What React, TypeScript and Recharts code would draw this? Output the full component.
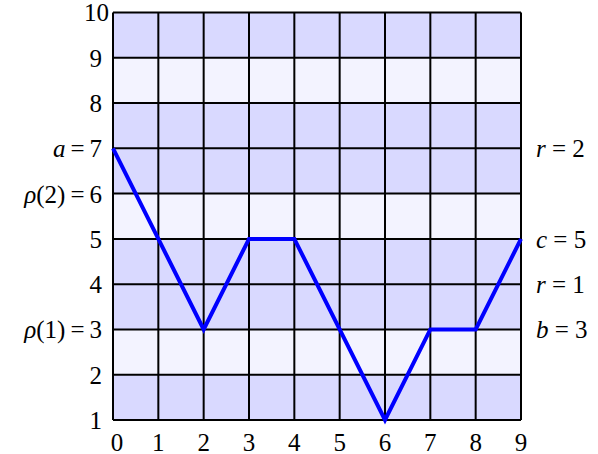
import React from 'react';
import { LineChart, Line, XAxis, YAxis, ReferenceArea, ReferenceLine } from 'recharts';

const xValues = [0, 1, 2, 3, 4, 5, 6, 7, 8, 9];
const yValues = [7, 5, 3, 5, 5, 3, 1, 3, 3, 5];
const xTicks = [0, 1, 2, 3, 4, 5, 6, 7, 8, 9];
const yTicks = [1, 2, 3, 4, 5, 6, 7, 8, 9, 10];
// lower edge of each row band and which ones are light
const bandRows = [1, 2, 3, 4, 5, 6, 7, 8, 9];
const lightRows = [2, 5, 8];
const leftPrefix: Record<number, [string, string]> = {
  7: ['a', ''],
  6: ['ρ', '(2)'],
  3: ['ρ', '(1)'],
};
const rightTicks = [3, 4, 5, 7];
const rightLabels: Record<number, [string, string]> = {
  7: ['r', ' = 2'],
  5: ['c', ' = 5'],
  4: ['r', ' = 1'],
  3: ['b', ' = 3'],
};

const data = xValues.map((x, i) => ({ x, y: yValues[i] }));

const FONT = 'Liberation Serif, Tinos, Times New Roman, DejaVu Serif, Noto Serif, serif';
const DARK = '#d9d9ff';
const LIGHT = '#f3f3ff';

const XTick = (props: any) => {
  const { x, y, payload } = props;
  const dx = payload.value === 0 ? 4 : 0;
  return (
    <text x={x + dx} y={y + 23} textAnchor="middle" fontFamily={FONT} fontSize={25} fill="#000">
      {payload.value}
    </text>
  );
};

const YTickLeft = (props: any) => {
  const { x, y, payload } = props;
  const v = payload.value;
  const pre = leftPrefix[v];
  let dx = -5;
  let dy = 9;
  if (v === 10) { dx = 2; dy = 8; }
  return (
    <text x={x + dx} y={y + dy} textAnchor="end" fontFamily={FONT} fontSize={25} fill="#000">
      {pre ? <tspan fontStyle="italic">{pre[0]}</tspan> : null}
      {pre ? <tspan>{pre[1] + '\u2009=\u2009'}</tspan> : null}
      <tspan>{v}</tspan>
    </text>
  );
};

const YTickRight = (props: any) => {
  const { x, y, payload } = props;
  const lab = rightLabels[payload.value];
  if (!lab) return null;
  return (
    <text x={x + 9} y={y + 9} textAnchor="start" fontFamily={FONT} fontSize={25} fill="#000" style={{ whiteSpace: 'pre' }}>
      <tspan fontStyle="italic">{lab[0]}</tspan>
      <tspan>{lab[1]}</tspan>
    </text>
  );
};

export default function App() {
  return (
    <div style={{ position: 'absolute', left: 0, top: 0, background: '#fff' }}>
      <LineChart
        width={598}
        height={454}
        data={data}
        margin={{ top: 12.5, right: 0, bottom: 0, left: 0 }}
      >
        <XAxis
          dataKey="x"
          type="number"
          domain={[0, 9]}
          ticks={xTicks}
          axisLine={false}
          tickLine={false}
          height={34}
          tick={<XTick />}
          interval={0}
        />
        <YAxis
          yAxisId="left"
          type="number"
          domain={[1, 10]}
          ticks={yTicks}
          axisLine={false}
          tickLine={false}
          width={113}
          tickMargin={0}
          tick={<YTickLeft />}
          interval={0}
        />
        <YAxis
          yAxisId="right"
          orientation="right"
          type="number"
          domain={[1, 10]}
          allowDataOverflow
          ticks={rightTicks}
          axisLine={false}
          tickLine={false}
          width={77}
          tickMargin={0}
          tick={<YTickRight />}
          interval={0}
        />
        {bandRows.map((r) => (
          <ReferenceArea
            key={'b' + r}
            yAxisId="left"
            x1={0}
            x2={9}
            y1={r}
            y2={r + 1}
            fill={lightRows.includes(r) ? LIGHT : DARK}
            fillOpacity={1}
            stroke="none"
            ifOverflow="visible"
          />
        ))}
        {xTicks.map((t) => (
          <ReferenceLine key={'x' + t} yAxisId="left" x={t} stroke="#000" strokeWidth={2} ifOverflow="visible" />
        ))}
        {yTicks.map((t) => (
          <ReferenceLine key={'y' + t} yAxisId="left" y={t} stroke="#000" strokeWidth={2} ifOverflow="visible" />
        ))}
        <Line
          yAxisId="left"
          dataKey="y"
          stroke="#0000ff"
          strokeWidth={4}
          dot={false}
          isAnimationActive={false}
          strokeLinejoin="miter"
        />
      </LineChart>
    </div>
  );
}
